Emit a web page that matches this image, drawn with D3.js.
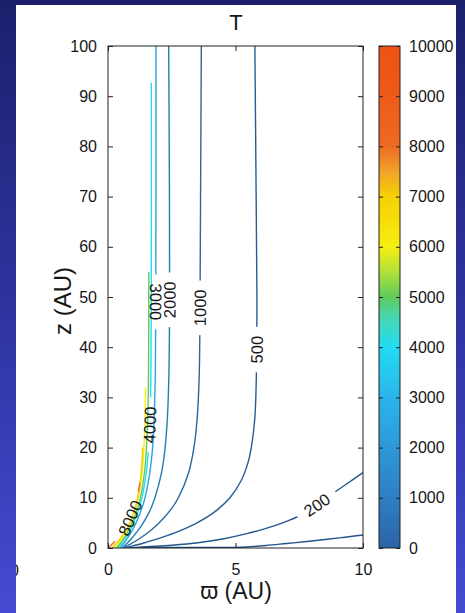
<!DOCTYPE html>
<html>
<head>
<meta charset="utf-8">
<script src="https://cdn.jsdelivr.net/npm/d3@7"></script>
<style>
  html, body { margin: 0; padding: 0; }
  body { width: 465px; height: 613px; overflow: hidden; }
  svg { display: block; }
  text { font-family: "Liberation Sans", Arial, Helvetica, sans-serif; fill: #161616; }
</style>
</head>
<body>
<svg id="chart" width="465" height="613"></svg>
<script>
// Temperature T (K) in the (ϖ, z) plane, contour paths in AU
const xTicks = [0, 5, 10];
const yTicks = [0, 10, 20, 30, 40, 50, 60, 70, 80, 90, 100];
const cbarTicks = [0, 1000, 2000, 3000, 4000, 5000, 6000, 7000, 8000, 9000, 10000];

// colormap anchor values and colours
const cmapValues = [0, 1000, 2000, 3000, 4000, 4600, 5000, 5500, 6000, 7000, 7500, 8000, 9000, 10000];
const cmapColors = ["#2a64a6", "#2f7ec2", "#2e98d8", "#2bb4ea", "#22dcf2", "#48d6b2", "#5ecb5c",
                    "#b2e03a", "#f6ee12", "#f6d002", "#f2a22a", "#ee6a24", "#ee5a1a", "#ee5214"];

// contour levels
const levels = [100, 200, 500, 1000, 2000, 3000, 4000, 5000, 6000, 7000, 8000];

// traced contour lines: [ϖ, z]
const c100  = [[0.8,0.0],[1.6,0.12],[2.6,0.12],[3.6,0.1],[4.6,0.1],[5.4,0.2],[6.2,0.5],[7.0,0.9],[7.8,1.3],[8.6,1.75],[9.3,2.15],[10,2.6]];
const c200  = [[0.75,0.0],[1.5,0.25],[2.5,0.55],[3.6,1.1],[4.5,1.8],[5.4,2.8],[6.2,3.9],[6.9,5.1],[7.5,6.4],[8.2,8.6],[8.8,10.8],[9.4,12.9],[10,15]];
const c500  = [[0.65,0.0],[0.89,0.3],[1.41,1],[2.06,2],[2.86,3.5],[3.49,5],[4.26,7.5],[4.78,10],[5.23,13.5],[5.49,17],[5.62,20],[5.76,26],[5.82,35],[5.84,50],[5.81,70],[5.76,100]];
const c1000 = [[0.6,0.0],[0.71,0.3],[0.955,1],[1.27,2],[1.67,3.5],[2.0,5],[2.44,7.5],[2.76,10],[3.16,15],[3.37,20],[3.5,26],[3.58,35],[3.61,50],[3.63,70],[3.66,100]];
const c2000 = [[0.55,0.0],[0.76,1],[0.94,2],[1.18,3.5],[1.38,5],[1.65,7.5],[1.84,10],[2.1,15],[2.24,20],[2.33,26],[2.39,35],[2.415,50],[2.41,70],[2.38,100]];
const c3000 = [[0.48,0.0],[0.635,1],[0.77,2],[0.95,3.5],[1.1,5],[1.3,7.5],[1.45,10],[1.64,15],[1.75,20],[1.81,26],[1.857,35],[1.876,50],[1.88,70],[1.88,100]];
const c4000 = [[0.4,0.0],[0.55,1],[0.69,2],[0.86,3.5],[1.0,5],[1.19,7.5],[1.33,10],[1.5,15],[1.59,20],[1.65,26],[1.684,35],[1.697,50],[1.7,70],[1.7,92.7]];
const c5000 = [[0.33,0.0],[0.49,1],[0.63,2],[0.8,3.5],[0.95,5],[1.13,7.5],[1.27,10],[1.43,15],[1.51,20],[1.56,26],[1.585,33],[1.595,40],[1.6,48],[1.6,55]];
const c6000 = [[0.25,0.0],[0.41,1],[0.56,2],[0.73,3.5],[0.88,5],[1.06,7.5],[1.19,10],[1.34,15],[1.41,20],[1.45,26],[1.47,32]];
const c7000 = [[0.15,0.0],[0.34,1],[0.5,2],[0.7,3.5],[0.86,5],[1.04,7.5],[1.16,10],[1.3,15],[1.355,20]];
const c8000 = [[0.0,0.0],[0.066,0.3],[0.21,1],[0.38,2],[0.6,3.5],[0.78,5],[0.99,7.5],[1.14,10],[1.25,13]];
const contourPaths = [c100, c200, c500, c1000, c2000, c3000, c4000, c5000, c6000, c7000, c8000];

// inline labels: level, anchor [ϖ, z], reading direction flipped or not
const labelLevels  = [200, 500, 1000, 2000, 3000, 4000, 8000];
const labelAnchors = [[8.2, 8.6], [5.84, 39.5], [3.6, 47.8], [2.41, 49.4], [1.86, 49], [1.64, 24.5], [0.86, 6]];
const labelFlip    = [false, false, false, false, true, false, false];

const svg = d3.select("#chart");
const defs = svg.append("defs");

// backdrop
const bg = defs.append("linearGradient").attr("id", "bg").attr("x1", 0).attr("y1", 0).attr("x2", 0).attr("y2", 1);
bg.append("stop").attr("offset", "0%").attr("stop-color", "#1c206c");
bg.append("stop").attr("offset", "55%").attr("stop-color", "#2f36a4");
bg.append("stop").attr("offset", "100%").attr("stop-color", "#454bd2");
svg.append("rect").attr("width", 465).attr("height", 613).attr("fill", "url(#bg)");
svg.append("rect").attr("x", 16).attr("y", 5).attr("width", 440).attr("height", 608).attr("fill", "#ffffff");

defs.append("clipPath").attr("id", "panelClip")
  .append("rect").attr("x", 16).attr("y", 5).attr("width", 440).attr("height", 608);

const x = d3.scaleLinear().domain([0, 10]).range([108, 363]);
const y = d3.scaleLinear().domain([0, 100]).range([548, 46]);
const cy = d3.scaleLinear().domain([0, 10000]).range([548, 46]);
const cmap = d3.scaleLinear().domain(cmapValues).range(cmapColors).interpolate(d3.interpolateRgb).clamp(true);
// contour strokes: the cool levels are drawn a shade deeper than the bar
const strokeColor = lv => d3.color(cmap(lv)).darker(lv <= 2000 ? 0.55 : (lv <= 3000 ? 0.2 : 0)).formatHex();

defs.append("clipPath").attr("id", "plotClip")
  .append("rect").attr("x", x(0)).attr("y", y(100)).attr("width", x(10) - x(0)).attr("height", y(0) - y(100));

// contour lines
const line = d3.line().x(d => x(d[0])).y(d => y(d[1])).curve(d3.curveCatmullRom.alpha(0.5));
const plot = svg.append("g").attr("clip-path", "url(#plotClip)");
const pathNodes = {};
levels.forEach((lv, i) => {
  const p = plot.append("path")
    .attr("d", line(contourPaths[i]))
    .attr("fill", "none")
    .attr("stroke", strokeColor(lv))
    .attr("stroke-width", 1.4)
    .attr("stroke-linejoin", "round");
  pathNodes[lv] = p;
});

// inline contour labels with gaps cut out of their own line
const labelG = svg.append("g");
labelLevels.forEach((lv, i) => {
  const node = pathNodes[lv].node();
  const ax = x(labelAnchors[i][0]), ay = y(labelAnchors[i][1]);
  const L = node.getTotalLength();
  let best = 0, bestD = Infinity;
  for (let s = 0; s <= L; s += 0.5) {
    const q = node.getPointAtLength(s);
    const d = (q.x - ax) ** 2 + (q.y - ay) ** 2;
    if (d < bestD) { bestD = d; best = s; }
  }
  const c = node.getPointAtLength(best);
  const a = node.getPointAtLength(Math.max(0, best - 3));
  const b = node.getPointAtLength(Math.min(L, best + 3));
  let ang = Math.atan2(b.y - a.y, b.x - a.x) * 180 / Math.PI;
  if (labelFlip[i]) ang += 180;

  const t = labelG.append("text")
    .attr("transform", `translate(${c.x},${c.y}) rotate(${ang})`)
    .attr("text-anchor", "middle")
    .attr("dy", "0.36em")
    .attr("font-size", 16.5)
    .text(lv);
  const w = t.node().getComputedTextLength() + 18;

  const m = defs.append("mask").attr("id", "gap" + lv)
    .attr("maskUnits", "userSpaceOnUse").attr("x", 0).attr("y", 0).attr("width", 465).attr("height", 613);
  m.append("rect").attr("width", 465).attr("height", 613).attr("fill", "white");
  m.append("rect")
    .attr("transform", `translate(${c.x},${c.y}) rotate(${ang})`)
    .attr("x", -w / 2).attr("y", -9).attr("width", w).attr("height", 18)
    .attr("fill", "black");
  pathNodes[lv].attr("mask", `url(#gap${lv})`);
});

// axes with inward ticks
const axisStyle = g => {
  g.select(".domain").remove();
  g.selectAll(".tick line").attr("stroke", "#222").attr("stroke-width", 1);
  g.selectAll(".tick text").attr("fill", "#161616").attr("font-size", 16)
    .attr("font-family", '"Liberation Sans", Arial, Helvetica, sans-serif');
};
svg.append("g").attr("transform", `translate(${x(0)},0)`)
  .call(d3.axisLeft(y).tickValues(yTicks).tickSizeInner(-5).tickSizeOuter(0).tickPadding(11))
  .call(axisStyle);
svg.append("g").attr("transform", `translate(${x(10)},0)`)
  .call(d3.axisRight(y).tickValues(yTicks).tickSizeInner(-5).tickSizeOuter(0).tickFormat(""))
  .call(axisStyle);
svg.append("g").attr("transform", `translate(0,${y(0)})`)
  .call(d3.axisBottom(x).tickValues(xTicks).tickSizeInner(-5).tickSizeOuter(0).tickPadding(16))
  .call(axisStyle);
svg.append("g").attr("transform", `translate(0,${y(100)})`)
  .call(d3.axisTop(x).tickValues(xTicks).tickSizeInner(-5).tickSizeOuter(0).tickFormat(""))
  .call(axisStyle);
svg.append("rect")
  .attr("x", x(0)).attr("y", y(100)).attr("width", x(10) - x(0)).attr("height", y(0) - y(100))
  .attr("fill", "none").attr("stroke", "#222").attr("stroke-width", 1);

// colour bar
const cbX = 379, cbW = 21;
const grad = defs.append("linearGradient").attr("id", "cbar").attr("x1", 0).attr("y1", 1).attr("x2", 0).attr("y2", 0);
d3.range(0, 10001, 125).forEach(v => {
  grad.append("stop").attr("offset", (v / 10000 * 100) + "%").attr("stop-color", cmap(v));
});
svg.append("rect").attr("x", cbX).attr("y", cy(10000)).attr("width", cbW).attr("height", cy(0) - cy(10000))
  .attr("fill", "url(#cbar)");
svg.append("g").attr("transform", `translate(${cbX + cbW},0)`)
  .call(d3.axisRight(cy).tickValues(cbarTicks).tickSizeInner(-4).tickSizeOuter(0).tickPadding(9).tickFormat(d3.format("d")))
  .call(axisStyle);
svg.append("g").attr("transform", `translate(${cbX},0)`)
  .call(d3.axisLeft(cy).tickValues(cbarTicks).tickSizeInner(-4).tickSizeOuter(0).tickFormat(""))
  .call(axisStyle);
svg.append("rect").attr("x", cbX).attr("y", cy(10000)).attr("width", cbW).attr("height", cy(0) - cy(10000))
  .attr("fill", "none").attr("stroke", "#222").attr("stroke-width", 1);

// titles
svg.append("text").attr("x", 236).attr("y", 30).attr("text-anchor", "middle").attr("font-size", 22).text("T");
svg.append("text").attr("x", 236).attr("y", 599).attr("text-anchor", "middle").attr("font-size", 23).text("ϖ (AU)");
svg.append("text").attr("transform", "translate(71,301) rotate(-90)").attr("text-anchor", "middle")
  .attr("font-size", 24).text("z (AU)");

// stray tick label at the panel's left edge
svg.append("g").attr("clip-path", "url(#panelClip)")
  .append("text").attr("x", 14.5).attr("y", 576).attr("text-anchor", "middle").attr("font-size", 16).text("0");
</script>
</body>
</html>
